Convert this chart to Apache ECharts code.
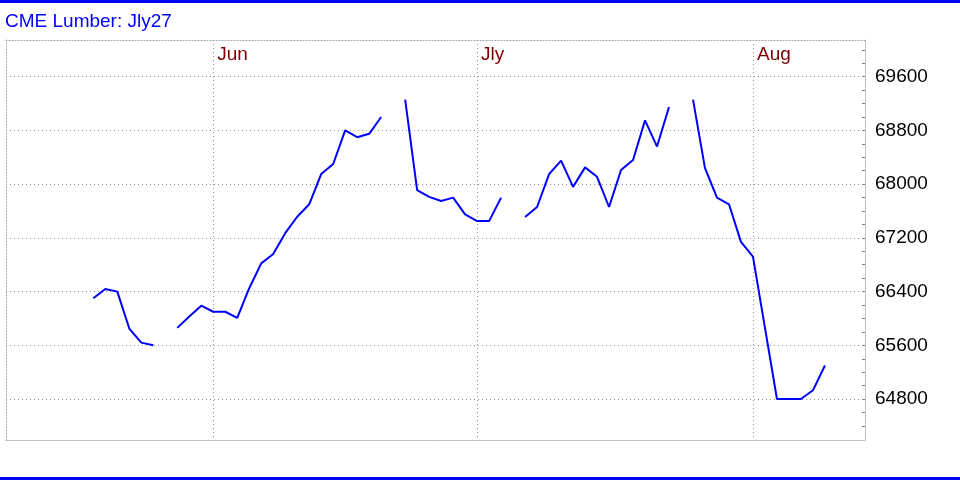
<!DOCTYPE html>
<html>
<head>
<meta charset="utf-8">
<script src="https://cdn.jsdelivr.net/npm/echarts@6/dist/echarts.min.js"></script>
<style>
html,body{margin:0;padding:0;background:#fff;}
#chart{width:960px;height:480px;}
</style>
</head>
<body>
<div id="chart"></div>
<script>
// Daily settlement prices by trading-day index (null = no value plotted)
const prices = [
  66300, 66440, 66400, 65850, 65640, 65600, null,
  65860, 66030, 66190, 66100, 66100, 66010, 66450, 66820, 66960, 67270, 67515, 67700, 68150, 68300, 68800, 68700, 68750, 69000, null,
  69260, 67910, 67810, 67750, 67800, 67550, 67450, 67450, 67800, null,
  67510, 67660, 68150, 68350, 67960, 68250, 68110, 67660, 68210, 68360, 68950, 68560, 69150, null,
  69260, 68240, 67800, 67700, 67140, 66920, 65860, 64800, 64800, 64800, 64930, 65300
];
const monthTickIndex = [10, 32, 55];
const monthLabels = ['Jun', 'Jly', 'Aug'];
const priceTicks = [64800, 65600, 66400, 67200, 68000, 68800, 69600];
const titleText = 'CME Lumber: Jly27';

const minorTicks = [];
for (let v = 64400; v <= 70000; v += 200) minorTicks.push(v);

const seriesData = prices.map((v, i) => [i, v]);
const xMin = -7.28, xMax = 64.34;
const yMin = 64190, yMax = 70147;
const font = 'Liberation Sans, Arial, sans-serif';

const chart = echarts.init(document.getElementById('chart'), null, {renderer: 'canvas'});
chart.setOption({
  animation: false,
  backgroundColor: '#ffffff',
  title: {
    text: titleText,
    left: 5, top: 12, padding: 0,
    textStyle: {color: '#0000ff', fontSize: 19, fontWeight: 'normal', fontFamily: font, lineHeight: 19}
  },
  grid: {left: 6, right: 95, top: 40, bottom: 40, containLabel: false, outerBoundsMode: 'none'},
  xAxis: [
    {
      type: 'value', position: 'top', min: xMin, max: xMax,
      axisLine: {show: true, onZero: false, lineStyle: {color: '#a0a0a0', width: 1, type: [1, 2]}},
      axisTick: {show: false, customValues: monthTickIndex},
      axisLabel: {
        show: true, inside: true, customValues: monthTickIndex,
        formatter: v => monthLabels[monthTickIndex.indexOf(v)] || '',
        color: '#800000', fontSize: 19, fontFamily: font,
        align: 'left', verticalAlign: 'middle', margin: 15, padding: [0, 0, 0, 4]
      },
      splitLine: {show: true, lineStyle: {color: '#909090', width: 1, type: [1, 3]}}
    },
    {
      type: 'value', position: 'bottom', min: xMin, max: xMax,
      axisLine: {show: true, onZero: false, lineStyle: {color: '#c0c0c0', width: 1}},
      axisTick: {show: false}, axisLabel: {show: false}, splitLine: {show: false}
    }
  ],
  yAxis: [
    {
      type: 'value', position: 'right', min: yMin, max: yMax,
      axisLine: {show: true, onZero: false, lineStyle: {color: '#c0c0c0', width: 1}},
      axisTick: {show: false, customValues: priceTicks},
      axisLabel: {
        show: true, customValues: priceTicks, formatter: v => String(v),
        color: '#000000', fontSize: 19, fontFamily: font, margin: 10, align: 'left'
      },
      splitLine: {show: true, lineStyle: {color: '#909090', width: 1, type: [1, 3]}}
    },
    {
      type: 'value', position: 'right', min: yMin, max: yMax,
      axisLine: {show: false, onZero: false},
      axisTick: {show: true, inside: true, length: 3, customValues: minorTicks, lineStyle: {color: '#808080'}},
      axisLabel: {show: false}, splitLine: {show: false}
    },
    {
      type: 'value', position: 'left', min: yMin, max: yMax,
      axisLine: {show: true, onZero: false, lineStyle: {color: '#a0a0a0', width: 1, type: [1, 2]}},
      axisTick: {show: false}, axisLabel: {show: false}, splitLine: {show: false}
    }
  ],
  graphic: [
    {type: 'rect', left: 0, top: 0, shape: {width: 960, height: 3}, style: {fill: '#0000ff'}},
    {type: 'rect', left: 0, top: 477, shape: {width: 960, height: 3}, style: {fill: '#0000ff'}}
  ],
  series: [{
    type: 'line', xAxisIndex: 0, yAxisIndex: 0,
    data: seriesData, showSymbol: false, symbol: 'none', connectNulls: false,
    lineStyle: {color: '#0000ff', width: 2}, itemStyle: {color: '#0000ff'},
    silent: true
  }]
});
</script>
</body>
</html>
